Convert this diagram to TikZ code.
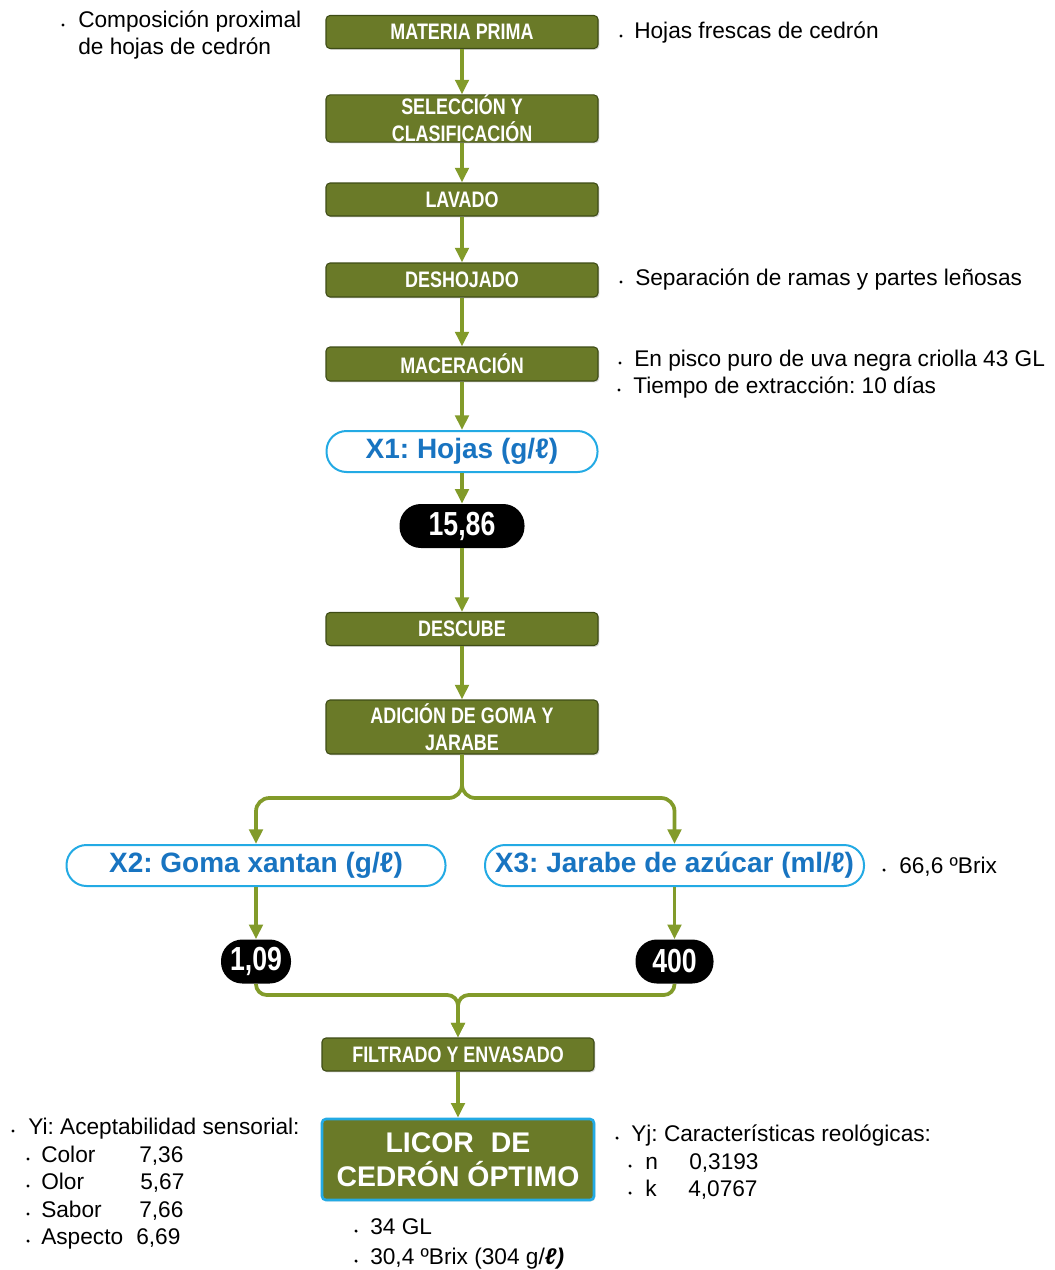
\documentclass[tikz,border=0pt]{standalone}
\usepackage{fontspec}
\setmainfont{Liberation Sans}
\newfontfamily\condb{Liberation Sans}[FakeStretch=0.8]
\usetikzlibrary{arrows.meta,shadows,calc}
\definecolor{olivebox}{RGB}{106,122,40}
\definecolor{olivedark}{RGB}{62,76,22}
\definecolor{arrowgreen}{RGB}{130,155,42}
\definecolor{lblue}{RGB}{35,170,228}
\definecolor{tblue}{RGB}{24,116,193}
\tikzset{
 stepbox/.style={rectangle, rounded corners=3pt, fill=olivebox, draw=olivedark, line width=0.8pt, text=white,
   font=\condb\bfseries\fontsize{16.8}{20.25}\selectfont, align=center, minimum width=204pt,
   minimum height=24.75pt, inner sep=0pt, drop shadow={opacity=0.3, shadow xshift=1pt, shadow yshift=-1pt}},
 varbox/.style={rectangle, rounded corners=15pt, draw=lblue, line width=1.5pt, fill=white, text=tblue,
   font=\bfseries\fontsize{21}{25}\selectfont, minimum height=30.75pt, inner sep=0pt},
 valbox/.style={rectangle, rounded corners=16pt, fill=black, text=white,
   font=\condb\bfseries\fontsize{25}{27}\selectfont, minimum height=33pt, inner sep=0pt},
 flow/.style={draw=arrowgreen, line width=2.8pt, -{Triangle[length=11pt,width=10pt]}},
 side/.style={anchor=base west, inner sep=0pt, font=\fontsize{17}{20.25}\selectfont},
 bul/.style={fill=black}
}
\frenchspacing
\begin{document}
\begin{tikzpicture}[x=0.75pt,y=-0.75pt]
\useasboundingbox (0,0) rectangle (1054,1270);
% process boxes
\node[stepbox] (mp) at (462,32) {MATERIA PRIMA};
\node[stepbox, minimum height=35.25pt] (sel) at (462,118.5) {SELECCIÓN Y\\CLASIFICACIÓN};
\node[stepbox] (lav) at (462,199.5) {LAVADO};
\node[stepbox, minimum height=25.5pt] (desh) at (462,280) {DESHOJADO};
\node[stepbox, minimum height=25.5pt] (mac) at (462,364) {MACERACIÓN};
\node[varbox, minimum width=203.25pt] (x1) at (462,451.5) {X1: Hojas (g/ℓ)};
\node[valbox, minimum width=93.75pt] (v1) at (462,526) {15,86};
\node[stepbox] (desc) at (462,629) {DESCUBE};
\node[stepbox, minimum height=40.5pt] (adic) at (462,727) {ADICIÓN DE GOMA Y\\JARABE};
\node[varbox, minimum width=284.25pt] (x2) at (256,865.5) {X2: Goma xantan (g/ℓ)};
\node[varbox, minimum width=284.25pt] (x3) at (674.5,865.5) {X3: Jarabe de azúcar (ml/ℓ)};
\node[valbox, minimum width=52.5pt] (v2) at (256,961.5) {1,09};
\node[valbox, minimum width=58.5pt] (v3) at (674.5,961.5) {400};
\node[stepbox] (filt) at (458,1054.5) {FILTRADO Y ENVASADO};
\node[stepbox, draw=lblue, line width=2pt, minimum height=60.75pt,
  font=\bfseries\fontsize{21.3}{25.5}\selectfont] (lic) at (458,1159.5) {LICOR\hspace{0.6em}DE\\CEDRÓN ÓPTIMO};
% connectors
\draw[flow] (mp) -- (sel);
\draw[flow] (sel) -- (lav);
\draw[flow] (lav) -- (desh);
\draw[flow] (desh) -- (mac);
\draw[flow] (mac) -- (x1);
\draw[flow] (x1) -- (v1);
\draw[flow] (v1) -- (desc);
\draw[flow] (desc) -- (adic);
\coordinate (br) at (462,798);
\draw[flow, rounded corners=10pt] (adic.south) -- (br) -| (x2.north);
\draw[flow, rounded corners=10pt] (adic.south) -- (br) -| (x3.north);
\draw[flow] (x2) -- (v2);
\draw[flow] (x3) -- (v3);
\coordinate (mg) at (458,995);
\draw[flow, rounded corners=8pt] (v2.south) |- (mg) -- (filt.north);
\draw[flow, rounded corners=8pt] (v3.south) |- (mg) -- (filt.north);
\draw[flow] (filt) -- (lic);
% side notes
\fill[bul] (63,25) circle[radius=1.3pt];
\node[side] (t1) at (78,28) {Composición proximal};
\node[side] (t1b) at (78,55) {de hojas de cedrón};
\fill[bul] (621,36) circle[radius=1.3pt];
\node[side] (t2) at (634,39) {Hojas frescas de cedrón};
\fill[bul] (621,282) circle[radius=1.3pt];
\node[side] (t3) at (635,285) {Separación de ramas y partes leñosas};
\fill[bul] (620,363) circle[radius=1.3pt];
\node[side] (t4) at (634,366) {En pisco puro de uva negra criolla 43 GL};
\fill[bul] (619,390) circle[radius=1.3pt];
\node[side] (t5) at (633,393) {Tiempo de extracción: 10 días};
\fill[bul] (884,870) circle[radius=1.3pt];
\node[side] (t6) at (899,873) {66,6 ºBrix};
\fill[bul] (13,1131) circle[radius=1.3pt];
\node[side] (yi) at (28,1134) {Yi: Aceptabilidad sensorial:};
\fill[bul] (28,1159) circle[radius=1.3pt];
\node[side] (c1) at (41,1162) {Color};
\node[side] (c1v) at (139,1162) {7,36};
\fill[bul] (28,1186) circle[radius=1.3pt];
\node[side] (c2) at (41,1189) {Olor};
\node[side] (c2v) at (140,1189) {5,67};
\fill[bul] (28,1214) circle[radius=1.3pt];
\node[side] (c3) at (41,1217) {Sabor};
\node[side] (c3v) at (139,1217) {7,66};
\fill[bul] (28,1241) circle[radius=1.3pt];
\node[side] (c4) at (41,1244) {Aspecto};
\node[side] (c4v) at (136,1244) {6,69};
\fill[bul] (617,1138) circle[radius=1.3pt];
\node[side] (yj) at (631,1141) {Yj: Características reológicas:};
\fill[bul] (630,1166) circle[radius=1.3pt];
\node[side] (r1) at (645,1169) {n};
\node[side] (r1v) at (689,1169) {0,3193};
\fill[bul] (630,1193) circle[radius=1.3pt];
\node[side] (r2) at (645,1196) {k};
\node[side] (r2v) at (688,1196) {4,0767};
\fill[bul] (356,1231) circle[radius=1.3pt];
\node[side] (p1) at (370,1234) {34 GL};
\fill[bul] (356,1261) circle[radius=1.3pt];
\node[side] (p2) at (370,1264) {30,4 ºBrix (304 g/{\bfseries\itshape ℓ)}};
\end{tikzpicture}
\end{document}
